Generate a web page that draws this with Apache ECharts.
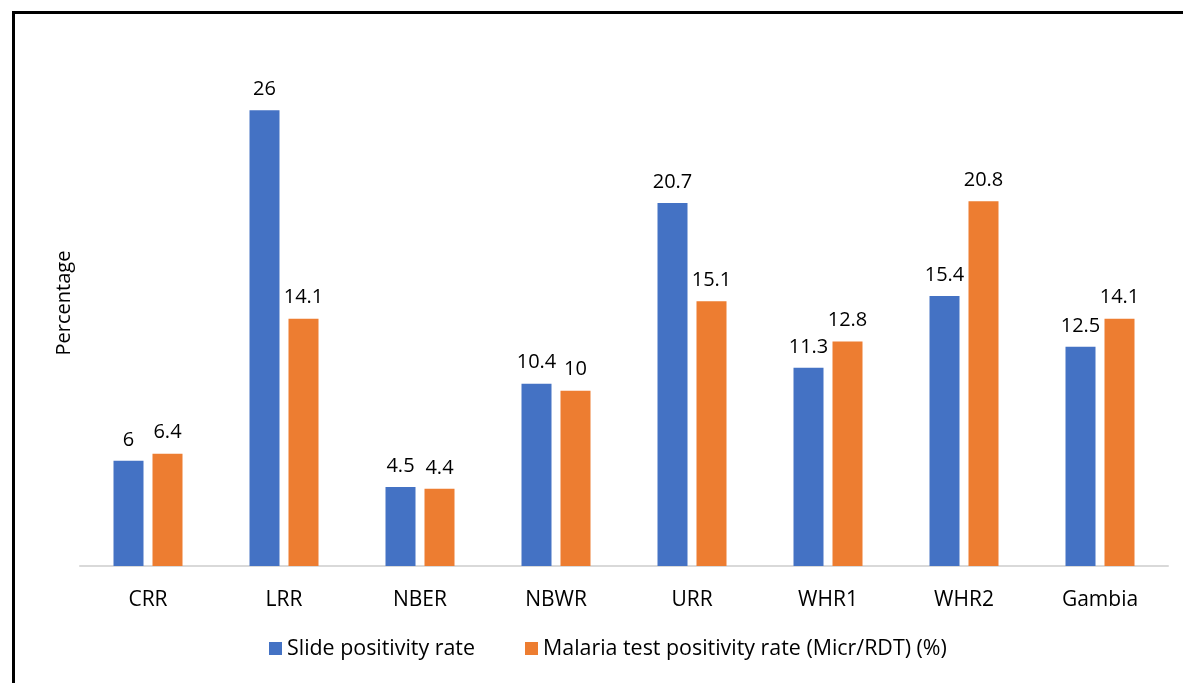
<!DOCTYPE html>
<html><head><meta charset="utf-8">
<script src="https://cdn.jsdelivr.net/npm/echarts@6/dist/echarts.min.js"></script>
<style>
html,body{margin:0;padding:0;background:#fff;}
#frame{position:absolute;left:12px;top:11px;width:1171px;height:672px;border-left:3px solid #000;border-top:3px solid #000;box-sizing:border-box;}
#c{position:absolute;left:0;top:0;width:1183px;height:683px;}
</style></head>
<body>
<div id="frame"></div>
<div id="c"></div>
<script>
var categories = ['CRR','LRR','NBER','NBWR','URR','WHR1','WHR2','Gambia'];
var seriesNames = ['Slide positivity rate','Malaria test positivity rate (Micr/RDT) (%)'];
var slideRate = [6, 26, 4.5, 10.4, 20.7, 11.3, 15.4, 12.5];
var testRate = [6.4, 14.1, 4.4, 10, 15.1, 12.8, 20.8, 14.1];
var font = '"Open Sans", "Liberation Sans", sans-serif';
var chart = echarts.init(document.getElementById('c'));
var lbl = {show:true, position:'top', distance:11, color:'#000', fontSize:20, fontFamily:font};
chart.setOption({
  animation:false,
  grid:{left:80, right:15, top:40, bottom:117},
  legend:{top:638, left:269, padding:0, itemWidth:13, itemHeight:13, itemGap:50, icon:'rect',
    textStyle:{fontSize:21.4, color:'#000', fontFamily:font}},
  xAxis:{type:'category', data:categories,
    axisLine:{lineStyle:{color:'#d9d9d9', width:2}}, axisTick:{show:false},
    axisLabel:{fontSize:21, color:'#000', fontFamily:font, margin:24}},
  yAxis:{type:'value', min:0, max:30, show:true,
    axisLine:{show:false}, axisTick:{show:false}, axisLabel:{show:false}, splitLine:{show:false},
    name:'Percentage', nameLocation:'middle', nameGap:6, nameRotate:90,
    nameTextStyle:{fontSize:20, color:'#000', fontFamily:font}},
  series:[
    {name:seriesNames[0], type:'bar', data:slideRate, barWidth:30, barGap:'30%', itemStyle:{color:'#4472c4'}, label:lbl},
    {name:seriesNames[1], type:'bar', data:testRate, barWidth:30, itemStyle:{color:'#ed7d31'}, label:lbl}
  ]
});
</script>
</body></html>
